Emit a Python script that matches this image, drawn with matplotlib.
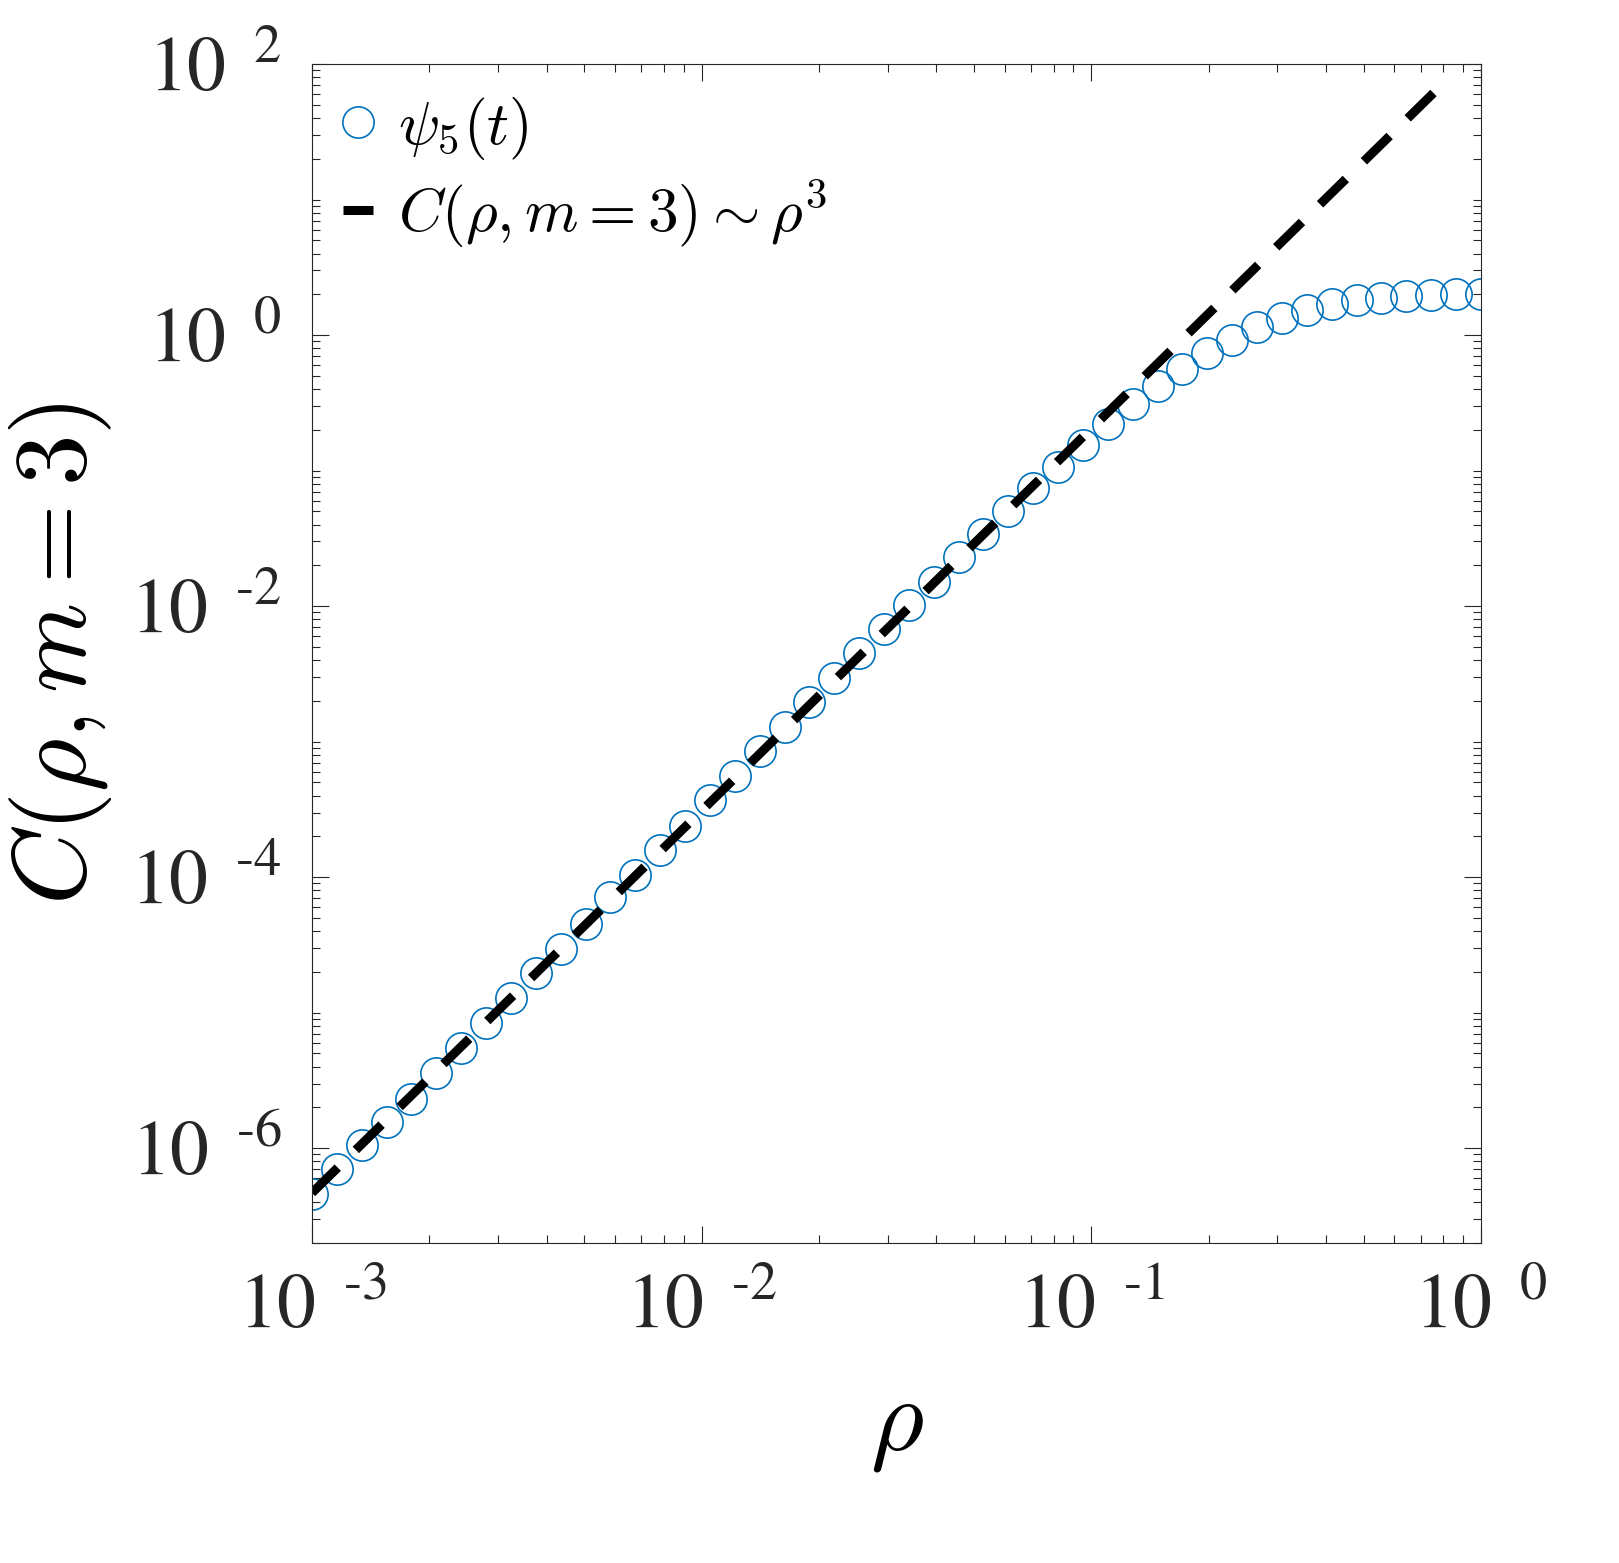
import numpy as np
import matplotlib
matplotlib.use("Agg")
import matplotlib.pyplot as plt
from matplotlib.ticker import LogLocator, FixedLocator, NullFormatter

plt.rcParams['font.family'] = ['Liberation Serif', 'DejaVu Serif']
plt.rcParams['mathtext.fontset'] = 'cm'

# 48 log-spaced rho values from 1e-3 to 1
log_rho = [-3 + i * 3 / 47 for i in range(48)]
log_C = [-6.335, -6.155, -5.978, -5.808, -5.638, -5.446, -5.262, -5.077, -4.893, -4.708,
         -4.531, -4.347, -4.150, -3.985, -3.801, -3.624, -3.432, -3.255, -3.070, -2.893,
         -2.708, -2.531, -2.347, -2.170, -1.993, -1.823, -1.638, -1.469, -1.299, -1.129,
         -0.974, -0.812, -0.657, -0.509, -0.376, -0.251, -0.133, -0.037, 0.059, 0.125,
         0.185, 0.229, 0.258, 0.273, 0.288, 0.295, 0.303, 0.303]
rho = [10 ** v for v in log_rho]
C = [10 ** v for v in log_C]

fit_log_rho = [-3.0, -0.085]
fit_log_C = [-6.33, 1.89]
fit_rho = [10 ** v for v in fit_log_rho]
fit_C = [10 ** v for v in fit_log_C]

fig = plt.figure(figsize=(16.19, 15.63), dpi=100)
ax = fig.add_axes([0.1927, 0.2047, 0.722, 0.7543])
ax.loglog(rho, C, 'o', mfc='none', mec='#0072BD', ms=22.5, mew=1.2, label=r'$\psi_5(t)$')
ax.loglog(fit_rho, fit_C, '--', color='black', lw=6.5, dashes=(4, 2.8),
          label=r'$C(\rho,m=3)\sim\rho^3$')
ax.set_xlim(1e-3, 1)
ax.set_ylim(10 ** -6.70, 1e2)

def lab(e):
    return r'$\mathrm{10}^{\ \ \text{%s}}$' % e

ax.xaxis.set_major_locator(FixedLocator([1e-3, 1e-2, 1e-1, 1]))
ax.yaxis.set_major_locator(FixedLocator([1e-6, 1e-4, 1e-2, 1, 1e2]))
ax.set_xticklabels([lab('-3'), lab('-2'), lab('-1'), lab('0')])
ax.set_yticklabels([lab('-6'), lab('-4'), lab('-2'), lab('0'), lab('2')])
for t in ax.get_xticklabels() + ax.get_yticklabels():
    t.set_math_fontfamily('stix')
    t.set_color('#262626')
ax.xaxis.set_minor_locator(LogLocator(base=10, subs=np.arange(2, 10), numticks=20))
ax.yaxis.set_minor_locator(LogLocator(base=10, subs=np.arange(1, 10), numticks=30))
ax.xaxis.set_minor_formatter(NullFormatter())
ax.yaxis.set_minor_formatter(NullFormatter())
ax.tick_params(which='both', direction='in', top=True, right=True, labelsize=56, color='#262626')
ax.tick_params(which='major', length=12, width=0.8, pad=22)
ax.tick_params(which='minor', length=6, width=0.8)
for s in ax.spines.values():
    s.set_linewidth(0.8)
    s.set_color('#262626')

ax.set_xlabel(r'$\rho$', fontsize=74, labelpad=25)
ax.set_ylabel(r'$C(\rho,m=3)$', fontsize=74, labelpad=12)
ax.legend(loc='upper left', frameon=False, fontsize=44, handlelength=0.5,
          handletextpad=0.4, borderaxespad=0.1, labelspacing=0.25)

fig.savefig('out.png', dpi=100)
